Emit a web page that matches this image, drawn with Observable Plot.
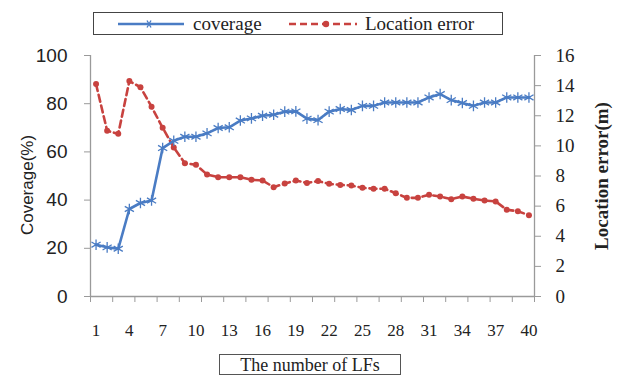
<!DOCTYPE html>
<html>
<head>
<meta charset="utf-8">
<script src="https://cdn.jsdelivr.net/npm/d3@7"></script>
<script src="https://cdn.jsdelivr.net/npm/@observablehq/plot@0.6"></script>
<style>
  html, body { margin: 0; padding: 0; background: #fff; }
  #wrap { position: relative; width: 620px; height: 375px; overflow: hidden; }
  #legend { position: absolute; left: 93px; top: 12px; width: 408px; height: 21px;
    border: 1px solid #444; font-family: "Liberation Serif", serif; font-size: 19px; color: #222;
    display: flex; align-items: center; box-sizing: content-box; }
  #legend svg { display: block; }
  #xtitle { position: absolute; left: 219px; top: 354px; width: 180px; height: 19px;
    border: 1px solid #555; font-family: "Liberation Serif", serif; font-size: 18px; color: #222;
    text-align: center; line-height: 21px; overflow: hidden; }
  .ylab { position: absolute; white-space: nowrap; transform: translate(-50%, -50%) rotate(-90deg);
    color: #222; line-height: 1; }
  #ylabL { left: 27px; top: 185px; font-family: "Liberation Sans", sans-serif; font-size: 17px; }
  #ylabR { left: 601px; top: 176px; font-family: "Liberation Serif", serif; font-size: 19px; font-weight: bold; }
</style>
</head>
<body>
<div id="wrap"></div>
<script>
const lfs = d3.range(1, 41);
const coverage = [21.5, 20.4, 19.8, 36.3, 38.8, 39.8, 61.6, 64.6, 66.3, 66.3,
  67.7, 69.9, 70.2, 73.0, 73.9, 75.0, 75.4, 76.7, 76.8, 73.8,
  73.2, 76.7, 77.8, 77.4, 79.1, 79.1, 80.5, 80.5, 80.5, 80.5,
  82.6, 84.0, 81.5, 80.3, 79.1, 80.5, 80.5, 82.6, 82.6, 82.6];
const locError = [14.1, 11.0, 10.8, 14.3, 13.9, 12.6, 11.2, 9.9, 8.85, 8.74,
  8.1, 7.92, 7.92, 7.92, 7.75, 7.7, 7.26, 7.5, 7.7, 7.54,
  7.66, 7.48, 7.41, 7.37, 7.22, 7.15, 7.15, 6.86, 6.55, 6.55,
  6.75, 6.64, 6.46, 6.64, 6.49, 6.37, 6.31, 5.76, 5.66, 5.4];
const xTickLabels = d3.range(1, 41, 3);
const leftTicks = [0, 20, 40, 60, 80, 100];
const rightTicks = [0, 2, 4, 6, 8, 10, 12, 14, 16];
const rightMax = 16;

const blue = "#4a7cc4";
const red = "#c8423f";
const axisGray = "#9a9a9a";
const toLeft = v => v * 100 / rightMax;

const covData = lfs.map((x, i) => ({x, y: coverage[i]}));
const errData = lfs.map((x, i) => ({x, y: toLeft(locError[i])}));

const chart = Plot.plot({
  width: 620,
  height: 375,
  marginLeft: 90,
  marginRight: 86,
  marginTop: 55,
  marginBottom: 79,
  x: {domain: [0.5, 40.5], axis: null},
  y: {domain: [0, 100], axis: null},
  marks: [
    Plot.ruleY([0], {stroke: axisGray, strokeWidth: 1.3}),
    Plot.ruleX([0.5, 40.5], {stroke: axisGray, strokeWidth: 1.3}),
    Plot.axisX({ticks: d3.range(0.5, 41, 2), tickSize: 6, tickFormat: () => "", stroke: axisGray, label: null}),
    Plot.axisX({ticks: xTickLabels, tickSize: 0, tickPadding: 27, fontSize: 17, label: null,
      fontFamily: "Liberation Serif, serif", fill: "#222", tickFormat: d3.format("d")}),
    Plot.axisY({anchor: "left", ticks: leftTicks, tickSize: 6, tickPadding: 17, fontSize: 19, label: null,
      fontFamily: "Liberation Sans, sans-serif", fill: "#222", stroke: axisGray, tickFormat: d3.format("d")}),
    Plot.axisY({anchor: "right", ticks: rightTicks.map(toLeft), tickSize: 6, tickPadding: 15, fontSize: 19, label: null,
      fontFamily: "Liberation Serif, serif", fill: "#222", stroke: axisGray,
      tickFormat: v => d3.format("d")(v * rightMax / 100)}),
    Plot.line(errData, {x: "x", y: "y", stroke: red, strokeWidth: 2.6, strokeDasharray: "7,4"}),
    Plot.dot(errData, {x: "x", y: "y", fill: red, r: 3}),
    Plot.line(covData, {x: "x", y: "y", stroke: blue, strokeWidth: 2.6}),
    Plot.dot(covData, {x: "x", y: "y", symbol: "asterisk", stroke: blue, strokeWidth: 1.3, r: 5})
  ]
});

const wrap = document.getElementById("wrap");
wrap.appendChild(chart);

const yl = document.createElement("div");
yl.id = "ylabL"; yl.className = "ylab"; yl.textContent = "Coverage(%)";
wrap.appendChild(yl);
const yr = document.createElement("div");
yr.id = "ylabR"; yr.className = "ylab"; yr.textContent = "Location error(m)";
wrap.appendChild(yr);

const legend = document.createElement("div");
legend.id = "legend";
legend.innerHTML =
  `<svg width="99" height="21"><line x1="24" x2="90" y1="11" y2="11" stroke="${blue}" stroke-width="2.6"/>` +
  `<g transform="translate(55,11)" stroke="${blue}" stroke-width="1.3">` +
  `<line x1="-4" x2="4" y1="0" y2="0"/><line x1="-2" x2="2" y1="-3.5" y2="3.5"/><line x1="-2" x2="2" y1="3.5" y2="-3.5"/></g></svg>` +
  `<span style="width:96px">coverage</span>` +
  `<svg width="76" height="21"><line x1="0" x2="68" y1="11" y2="11" stroke="${red}" stroke-width="2.6" stroke-dasharray="7,4"/>` +
  `<circle cx="37" cy="11" r="3.2" fill="${red}"/></svg>` +
  `<span>Location error</span>`;
wrap.appendChild(legend);

const xt = document.createElement("div");
xt.id = "xtitle";
xt.textContent = "The number of LFs";
wrap.appendChild(xt);
</script>
</body>
</html>
